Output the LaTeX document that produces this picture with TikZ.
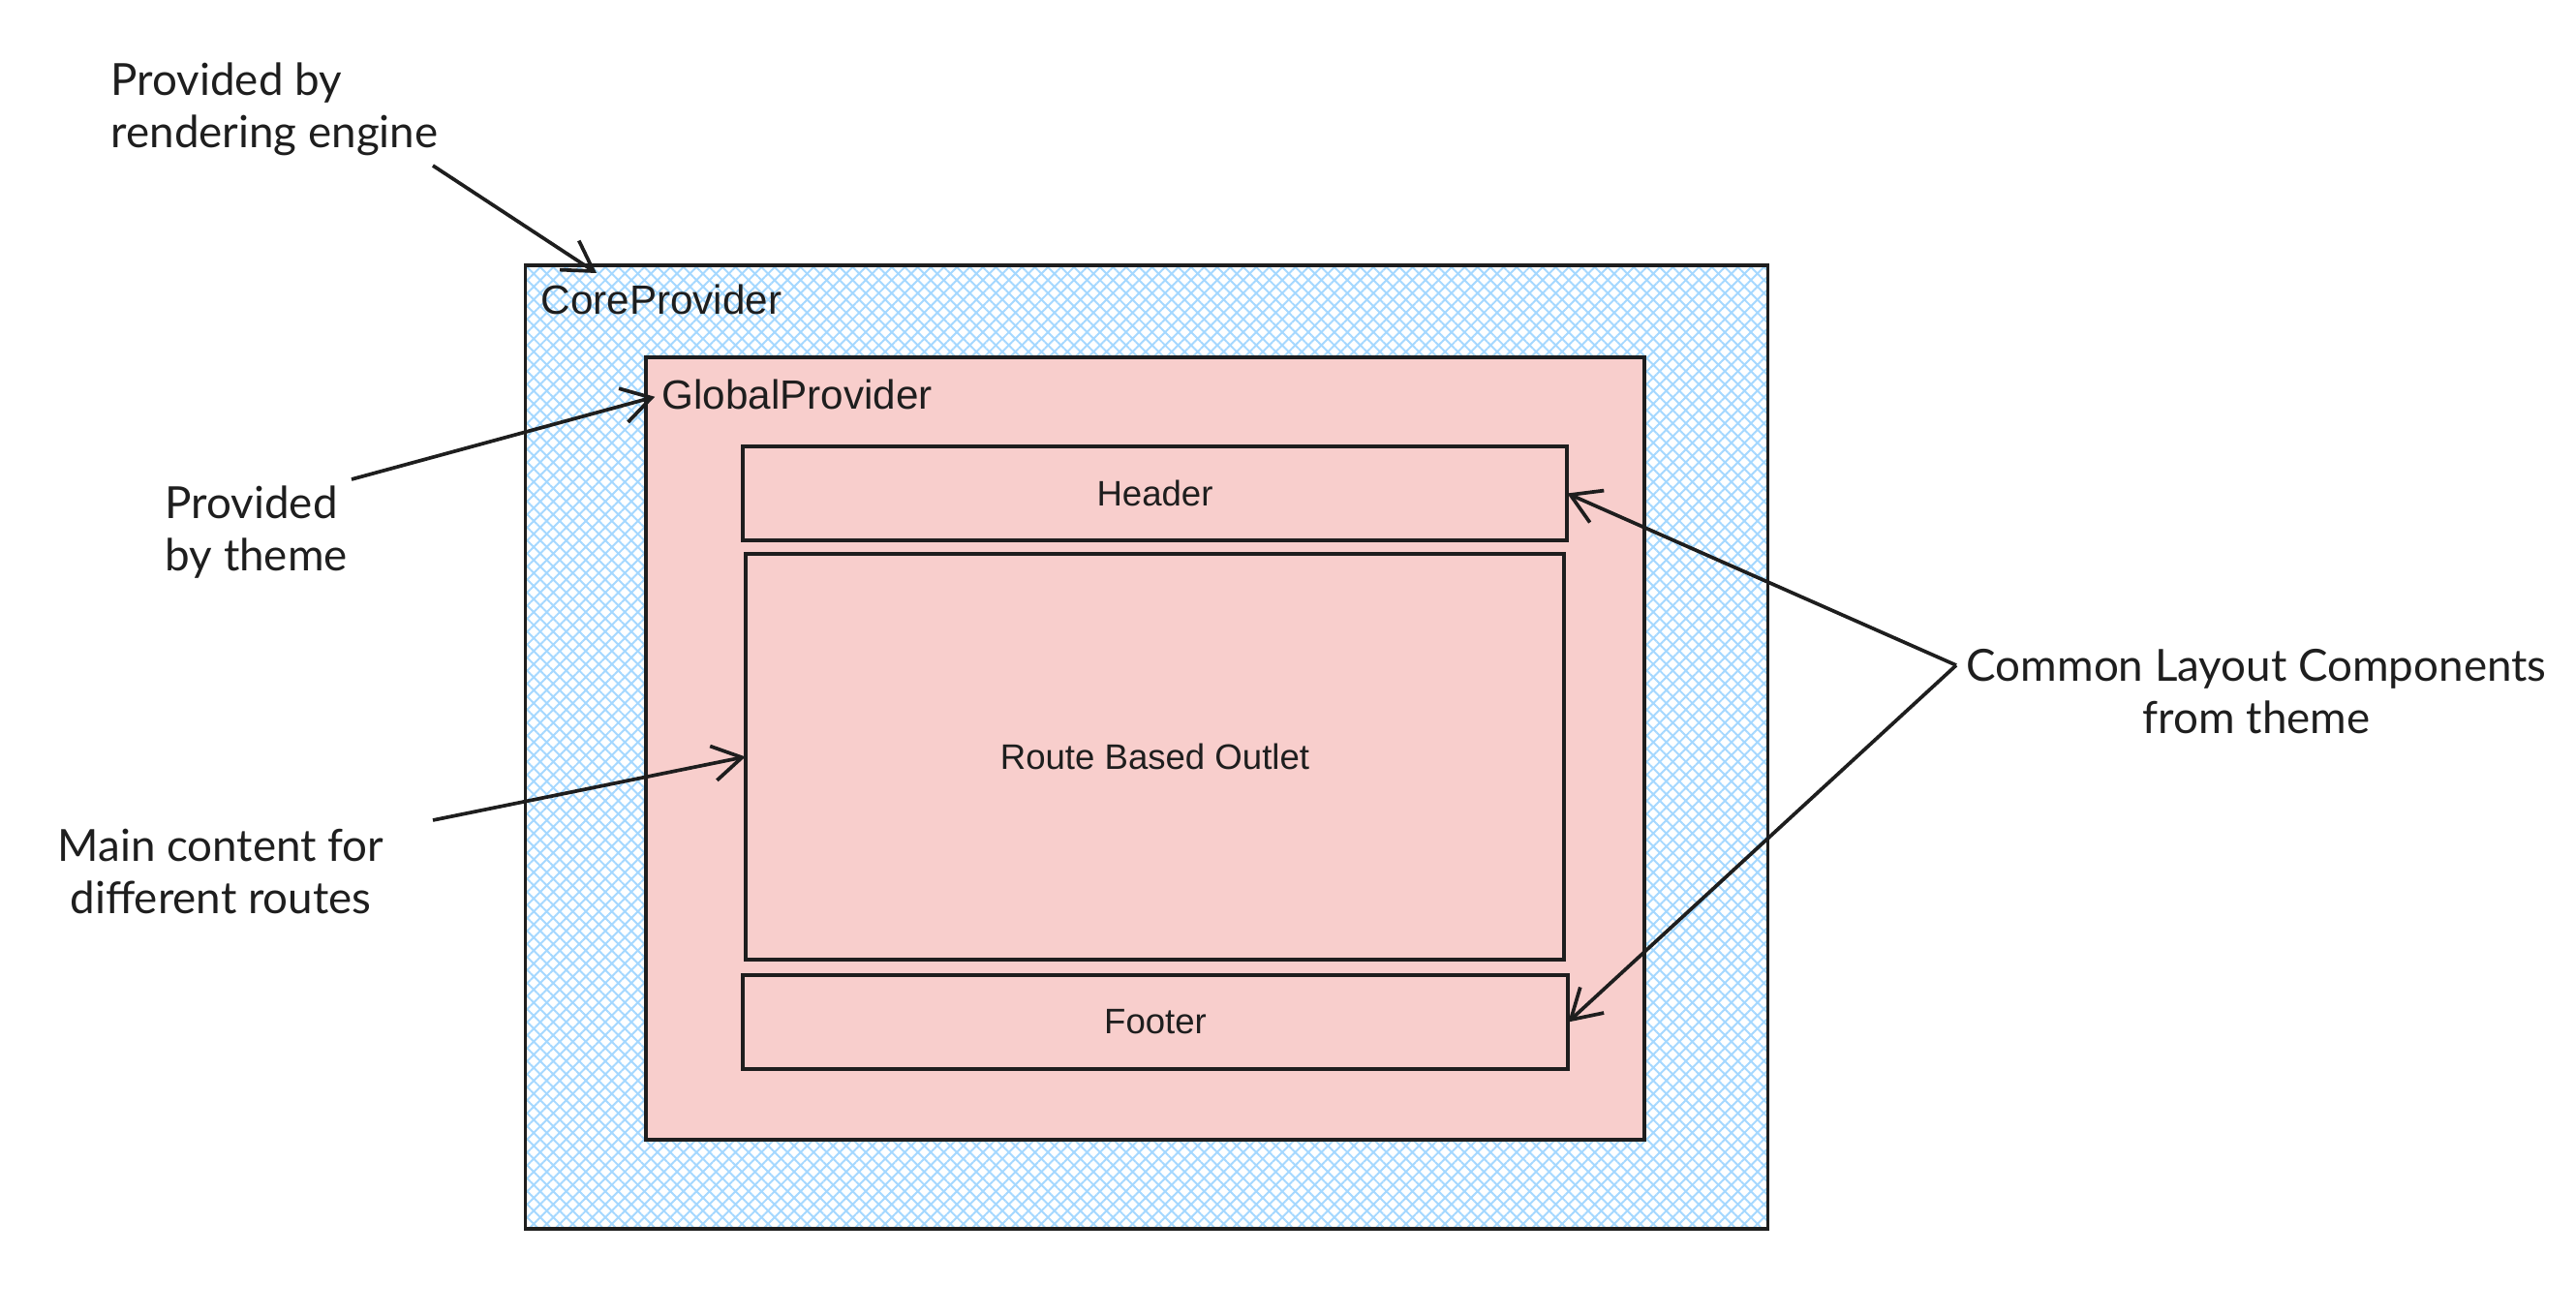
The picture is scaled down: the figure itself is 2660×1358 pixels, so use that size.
\documentclass[tikz,border=0pt]{standalone}
\usepackage{fontspec}
\setmainfont{Liberation Sans}
\newfontfamily\handfont{Lato}
\usetikzlibrary{arrows.meta,patterns.meta,positioning}

\definecolor{inkgray}{HTML}{1E1E1E}
\definecolor{pinkfill}{RGB}{248,206,204}
\definecolor{hatchblue}{RGB}{165,216,255}

\tikzset{
  box/.style={draw=inkgray, line width=1.05pt, inner sep=0pt, outer sep=0pt},
  pinkbox/.style={box, fill=pinkfill},
  boxtext/.style={font=\fontsize{10.4}{12.5}\selectfont, text=inkgray},
  provtext/.style={font=\fontsize{12}{14}\selectfont, text=inkgray, inner sep=0pt, anchor=base west},
  note/.style={font=\handfont\fontsize{13}{15.4}\selectfont, text=inkgray, inner sep=0pt},
  pointer/.style={draw=inkgray, line width=1.05pt, -{Straight Barb[length=3mm,width=3.6mm,line width=1.05pt]}},
}

\begin{document}
\begin{tikzpicture}[x=0.01cm, y=-0.01cm]
\useasboundingbox (0,0) rectangle (2660,1358);

\node[box, minimum width=12.82cm, minimum height=9.95cm,
  preaction={fill=white},
  preaction={pattern={Hatch[angle=45,distance=0.95mm,line width=0.55pt]}, pattern color=hatchblue}]
  (core) at (1184,771.5) {};
\node[provtext] (corelabel) at (558,325) {CoreProvider};

\node[pinkbox, minimum width=10.31cm, minimum height=8.08cm] (global) at (1182.5,773) {};
\node[provtext] (globallabel) at (683,423) {GlobalProvider};

\node[pinkbox, boxtext, minimum width=8.51cm, minimum height=0.97cm] (header) at (1192.5,509.5) {Header};
\node[pinkbox, boxtext, minimum width=8.45cm, minimum height=4.19cm] (route) at (1192.5,781.5) {Route Based Outlet};
\node[pinkbox, boxtext, minimum width=8.52cm, minimum height=0.97cm] (footer) at (1193,1055.5) {Footer};

\node[note, align=left, anchor=west] (engine) at (114,113) {Provided by\\rendering engine};
\node[note, align=left, anchor=west] (theme) at (170,550) {Provided\\by theme};
\node[note, align=center] (maincontent) at (228,900) {Main content for\\different routes};
\node[note, align=center] (common) at (2330,714) {Common Layout Components\\from theme};

\coordinate (enginetail) at (447,171);
\coordinate (coretip) at (616,282);
\coordinate (themetail) at (363,495);
\coordinate (maintail) at (447,847);
\coordinate (fork) at (2020,687);

\draw[pointer] (enginetail) -- (coretip);
\draw[pointer, shorten >=2pt] (themetail) -- (globallabel.west);
\draw[pointer] (maintail) -- (route.west);
\draw[pointer] (fork) -- (header.east);
\draw[pointer] (fork) -- (footer.east);
\end{tikzpicture}
\end{document}
